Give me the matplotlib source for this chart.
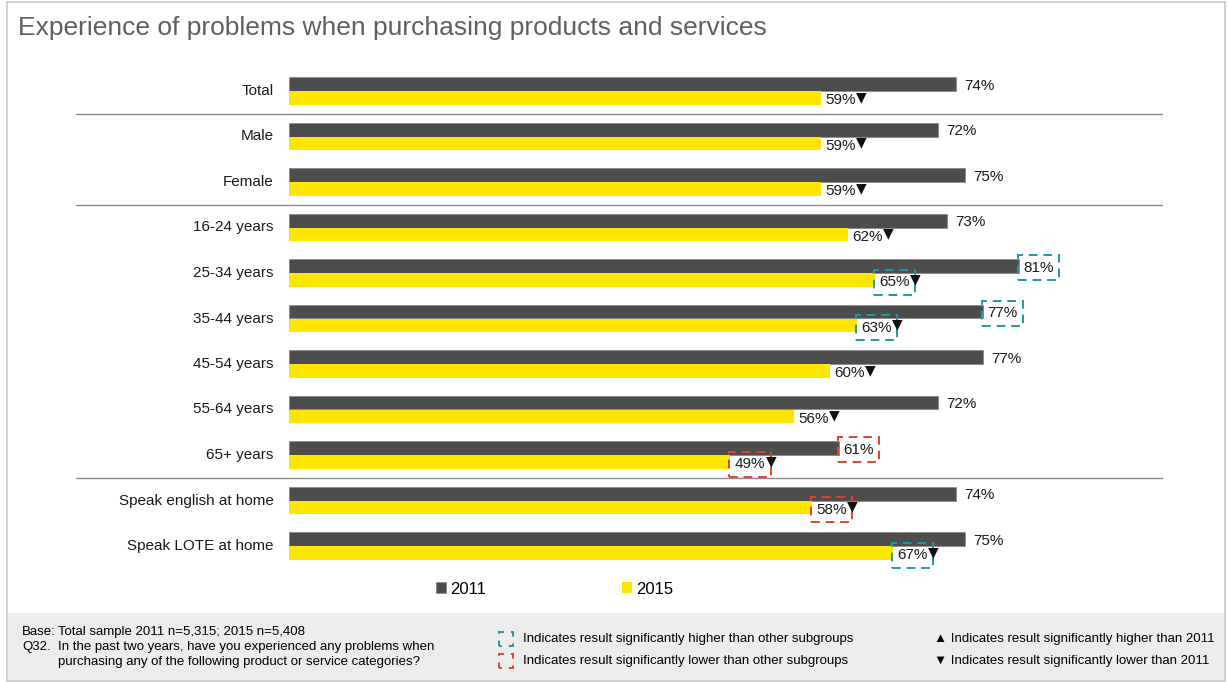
import matplotlib
matplotlib.use('Agg')
import matplotlib.pyplot as plt
from matplotlib.patches import Rectangle
from matplotlib import font_manager

# Experience of problems when purchasing products and services, 2011 vs 2015

categories = ['Total', 'Male', 'Female', '16-24 years', '25-34 years', '35-44 years',
              '45-54 years', '55-64 years', '65+ years', 'Speak english at home',
              'Speak LOTE at home']
vals2011 = [74, 72, 75, 73, 81, 77, 77, 72, 61, 74, 75]
vals2015 = [59, 59, 59, 62, 65, 63, 60, 56, 49, 58, 67]
# vs other subgroups: 'hi' / 'lo' / None
sub2011 = [None, None, None, None, 'hi', 'hi', None, None, 'lo', None, None]
sub2015 = [None, None, None, None, 'hi', 'hi', None, None, 'lo', 'lo', 'hi']
# vs 2011: all lower
down2015 = [True] * 11
groupBreaks = [0.5, 2.5, 8.5]

darkColor = '#4d4d4d'
yellowColor = '#ffe600'
teal = '#1a9ba6'
red = '#e8402f'
boxColors = {'hi': teal, 'lo': red}

names = [f.name for f in font_manager.fontManager.ttflist]
narrow = 'Liberation Sans Narrow' if 'Liberation Sans Narrow' in names else 'Liberation Sans'
plt.rcParams['font.family'] = ['Liberation Sans', 'DejaVu Sans']

W, H = 1228., 682.
fig = plt.figure(figsize=(W/100, H/100), dpi=100)

# axes: 0% at x=289px, 100% at x=1190px ; row i centre at 91 + 45.5*i px
yTop, yBot = -0.7, 10.7
pxTop = 91 + 45.5*yTop
pxBot = 91 + 45.5*yBot
ax = fig.add_axes([289/W, 1 - pxBot/H, 901/W, (pxBot - pxTop)/H])
ax.set_xlim(0, 100)
ax.set_ylim(yBot, yTop)
ax.axis('off')

barH = 0.30
rows = range(len(categories))
ax.barh([i - barH/2 for i in rows], vals2011, height=barH, color=darkColor,
        edgecolor='#8a8a8a', linewidth=0.6, label='2011')
ax.barh([i + barH/2 for i in rows], vals2015, height=barH, color=yellowColor,
        linewidth=0, label='2015')

def boxStyle(flag):
    if flag is None:
        return None
    return dict(boxstyle='square,pad=0.36', fc='none', ec=boxColors[flag],
                ls=(0, (4.5, 3)), lw=1.4)

lblSize = 11
for i in rows:
    ax.text(vals2011[i] + (0.9 if sub2011[i] is None else 0.5), i - barH/2 + 0.03, '%d%%' % vals2011[i],
            va='center', ha='left', fontsize=lblSize, color='#1a1a1a', bbox=boxStyle(sub2011[i]))
    t = ax.text(vals2015[i] + 0.5, i + barH/2 + 0.05, '%d%%' % vals2015[i],
                va='center', ha='left', fontsize=lblSize, color='#1a1a1a', bbox=boxStyle(sub2015[i]))
    if down2015[i]:
        ax.annotate('\u25bc', xy=(1, 0.5), xycoords=t, xytext=(0.3, 2.3), textcoords='offset points',
                    va='center', ha='left', fontsize=10, family='DejaVu Sans', color='#111111')
    ax.text(-1.7, i, categories[i], ha='right', va='center', fontsize=11, color='#1a1a1a')

for b in groupBreaks:
    ax.plot([(76-289)/9.01, (1162-289)/9.01], [b, b], color='#8c8c8c', lw=1, clip_on=False)

# legend
fig.legend(handles=ax.patches[:1] + ax.patches[len(categories):len(categories)+1],
           labels=['2011', '2015'], loc='center left', bbox_to_anchor=(429/W, 1 - 589/H),
           ncol=2, frameon=False, fontsize=12, handlelength=0.6, handleheight=0.6,
           handletextpad=0.25, columnspacing=8.2, borderaxespad=0)

# title and frame
fig.text(18/W, 1 - 28/H, 'Experience of problems when purchasing products and services',
         fontsize=19, color='#5f5f5f', va='center', ha='left')
fig.patches.append(Rectangle((7/W, 1/H), (1225-7)/W, (680-1)/H, transform=fig.transFigure,
                             fc='none', ec='#c8c8c8', lw=1.2))

# footer
fig.patches.append(Rectangle((8/W, 2/H), (1224-8)/W, (680-613)/H, transform=fig.transFigure,
                             fc='#ececec', ec='none'))
fs = 9.5
fig.text(22/W, 1 - 632/H, 'Base:', fontsize=fs, family=narrow, va='center')
fig.text(58/W, 1 - 632/H, 'Total sample 2011 n=5,315; 2015 n=5,408', fontsize=fs, family=narrow, va='center')
fig.text(22/W, 1 - 647/H, 'Q32.', fontsize=fs, family=narrow, va='center')
fig.text(58/W, 1 - 647/H, 'In the past two years, have you experienced any problems when',
         fontsize=fs, family=narrow, va='center')
fig.text(58/W, 1 - 662/H, 'purchasing any of the following product or service categories?',
         fontsize=fs, family=narrow, va='center')

for yy, col, txt in [(639, teal, 'Indicates result significantly higher than other subgroups'),
                     (661, red, 'Indicates result significantly lower than other subgroups')]:
    fig.patches.append(Rectangle((499/W, 1 - (yy+7)/H), 14/W, 14/H, transform=fig.transFigure,
                                 fc='none', ec=col, lw=1.4, ls=(2, (3.5, 3.5))))
    fig.text(523/W, 1 - yy/H, txt, fontsize=fs, family=narrow, va='center')

fig.text(934/W, 1 - 639/H, '\u25b2 Indicates result significantly higher than 2011',
         fontsize=fs, family=[narrow, 'DejaVu Sans'], va='center')
fig.text(934/W, 1 - 661/H, '\u25bc Indicates result significantly lower than 2011',
         fontsize=fs, family=[narrow, 'DejaVu Sans'], va='center')

fig.savefig('out.png', dpi=100)
